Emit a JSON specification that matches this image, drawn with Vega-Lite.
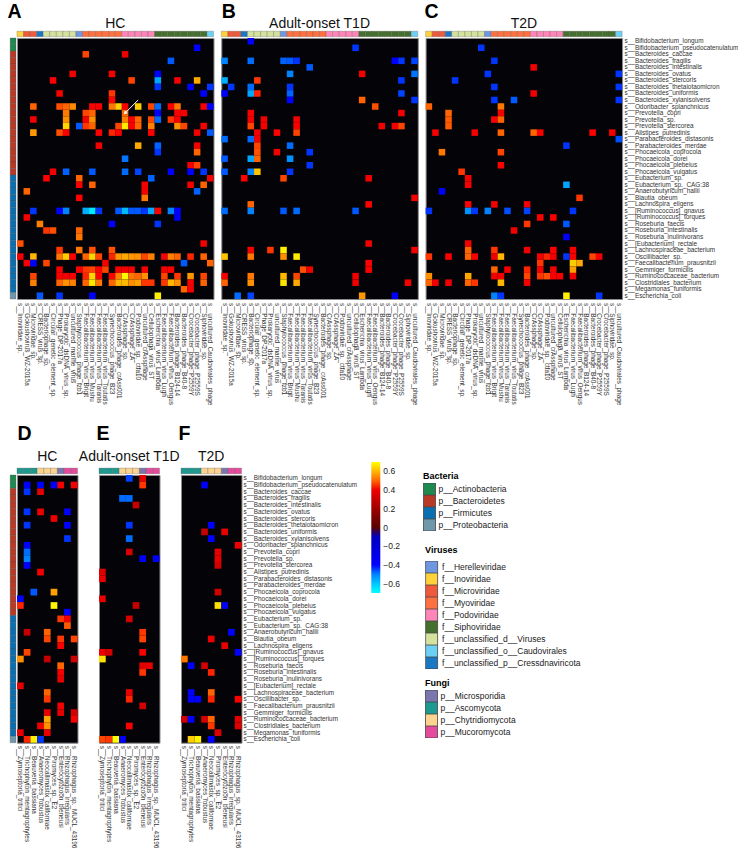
{"$schema":"https://vega.github.io/schema/vega-lite/v6.json","padding":{"left":6,"top":0,"right":0,"bottom":0},"background":"white",
"params":[
{"name":"speciesNames","value":["s__Bifidobacterium_longum","s__Bifidobacterium_pseudocatenulatum","s__Bacteroides_caccae","s__Bacteroides_fragilis","s__Bacteroides_intestinalis","s__Bacteroides_ovatus","s__Bacteroides_stercoris","s__Bacteroides_thetaiotaomicron","s__Bacteroides_uniformis","s__Bacteroides_xylanisolvens","s__Odoribacter_splanchnicus","s__Prevotella_copri","s__Prevotella_sp.","s__Prevotella_stercorea","s__Alistipes_putredinis","s__Parabacteroides_distasonis","s__Parabacteroides_merdae","s__Phocaeicola_coprocola","s__Phocaeicola_dorei","s__Phocaeicola_plebeius","s__Phocaeicola_vulgatus","s__Eubacterium_sp.","s__Eubacterium_sp._CAG:38","s__Anaerobutyricum_hallii","s__Blautia_obeum","s__Lachnospira_eligens","s__[Ruminococcus]_gnavus","s__[Ruminococcus]_torques","s__Roseburia_faecis","s__Roseburia_intestinalis","s__Roseburia_inulinivorans","s__[Eubacterium]_rectale","s__Lachnospiraceae_bacterium","s__Oscillibacter_sp.","s__Faecalibacterium_prausnitzii","s__Gemmiger_formicilis","s__Ruminococcaceae_bacterium","s__Clostridiales_bacterium","s__Megamonas_funiformis","s__Escherichia_coli"]},
{"name":"virusNames","value":["s__Inoviridae_sp.","s__Gokushovirus_WZ-2015a","s__Microviridae_sp.","s__CRESS_virus_sp.","s__Bacteriophage_sp.","s__Circular_genetic_element_sp.","s__Phage_DP-2017a","s__Prokaryotic_dsDNA_virus_sp.","s__uncultured_marine_virus","s__Staphylococcus_phage_fzb1","s__Faecalibacterium_virus_Brigit","s__Faecalibacterium_virus_Mushu","s__Faecalibacterium_virus_Taranis","s__Faecalibacterium_virus_Toutatis","s__Synechococcus_phage_B23","s__Bacteroides_phage_crAss001","s__CrAssphage_sp.","s__CrAssphage_ZA","s__Podoviridae_sp._ctfa10","s__uncultured_crAssphage","s__Cellulophaga_virus_ST","s__Escherichia_virus_Lambda","s__Faecalibacterium_virus_Lugh","s__Faecalibacterium_virus_Oengus","s__Bacteroides_phage_B124-14","s__Bacteroides_phage_B40-8","s__Crocebacter_phage_P2559Y","s__Crocebacter_phage_P2559S","s__Siphoviridae_sp.","s__uncultured_Caudovirales_phage"]},
{"name":"fungusNames","value":["s__Zymoseptoria_tritici","s__Trichophyton_mentagrophytes","s__Beauveria_bassiana","s__Anaeromyces_robustus","s__Neocallimastix_californiae","s__Piromyces_sp._E2","s__Enterocytozoon_bieneusi","s__Rhizophagus_irregularis","s__Rhizophagus_sp._MUCL_43196"]}
],
"datasets":{
"phyla":[{"r":1,"phylum":"p__Actinobacteria"},{"r":2,"phylum":"p__Actinobacteria"},{"r":3,"phylum":"p__Bacteroidetes"},{"r":4,"phylum":"p__Bacteroidetes"},{"r":5,"phylum":"p__Bacteroidetes"},{"r":6,"phylum":"p__Bacteroidetes"},{"r":7,"phylum":"p__Bacteroidetes"},{"r":8,"phylum":"p__Bacteroidetes"},{"r":9,"phylum":"p__Bacteroidetes"},{"r":10,"phylum":"p__Bacteroidetes"},{"r":11,"phylum":"p__Bacteroidetes"},{"r":12,"phylum":"p__Bacteroidetes"},{"r":13,"phylum":"p__Bacteroidetes"},{"r":14,"phylum":"p__Bacteroidetes"},{"r":15,"phylum":"p__Bacteroidetes"},{"r":16,"phylum":"p__Bacteroidetes"},{"r":17,"phylum":"p__Bacteroidetes"},{"r":18,"phylum":"p__Bacteroidetes"},{"r":19,"phylum":"p__Bacteroidetes"},{"r":20,"phylum":"p__Bacteroidetes"},{"r":21,"phylum":"p__Bacteroidetes"},{"r":22,"phylum":"p__Firmicutes"},{"r":23,"phylum":"p__Firmicutes"},{"r":24,"phylum":"p__Firmicutes"},{"r":25,"phylum":"p__Firmicutes"},{"r":26,"phylum":"p__Firmicutes"},{"r":27,"phylum":"p__Firmicutes"},{"r":28,"phylum":"p__Firmicutes"},{"r":29,"phylum":"p__Firmicutes"},{"r":30,"phylum":"p__Firmicutes"},{"r":31,"phylum":"p__Firmicutes"},{"r":32,"phylum":"p__Firmicutes"},{"r":33,"phylum":"p__Firmicutes"},{"r":34,"phylum":"p__Firmicutes"},{"r":35,"phylum":"p__Firmicutes"},{"r":36,"phylum":"p__Firmicutes"},{"r":37,"phylum":"p__Firmicutes"},{"r":38,"phylum":"p__Firmicutes"},{"r":39,"phylum":"p__Firmicutes"},{"r":40,"phylum":"p__Proteobacteria"}],
"families":[{"c":1,"family":"f__Inoviridae"},{"c":2,"family":"f__Microviridae"},{"c":3,"family":"f__Microviridae"},{"c":4,"family":"f__unclassified_p__Cressdnaviricota"},{"c":5,"family":"f__unclassified_d__Viruses"},{"c":6,"family":"f__unclassified_d__Viruses"},{"c":7,"family":"f__unclassified_d__Viruses"},{"c":8,"family":"f__unclassified_d__Viruses"},{"c":9,"family":"f__unclassified_d__Viruses"},{"c":10,"family":"f__Herelleviridae"},{"c":11,"family":"f__Myoviridae"},{"c":12,"family":"f__Myoviridae"},{"c":13,"family":"f__Myoviridae"},{"c":14,"family":"f__Myoviridae"},{"c":15,"family":"f__Myoviridae"},{"c":16,"family":"f__Myoviridae"},{"c":17,"family":"f__Podoviridae"},{"c":18,"family":"f__Podoviridae"},{"c":19,"family":"f__Podoviridae"},{"c":20,"family":"f__Podoviridae"},{"c":21,"family":"f__Podoviridae"},{"c":22,"family":"f__Siphoviridae"},{"c":23,"family":"f__Siphoviridae"},{"c":24,"family":"f__Siphoviridae"},{"c":25,"family":"f__Siphoviridae"},{"c":26,"family":"f__Siphoviridae"},{"c":27,"family":"f__Siphoviridae"},{"c":28,"family":"f__Siphoviridae"},{"c":29,"family":"f__Siphoviridae"},{"c":30,"family":"f__unclassified_o__Caudovirales"}],
"fungalPhyla":[{"c":1,"phylum":"p__Ascomycota"},{"c":2,"phylum":"p__Ascomycota"},{"c":3,"phylum":"p__Ascomycota"},{"c":4,"phylum":"p__Chytridiomycota"},{"c":5,"phylum":"p__Chytridiomycota"},{"c":6,"phylum":"p__Chytridiomycota"},{"c":7,"phylum":"p__Microsporidia"},{"c":8,"phylum":"p__Mucoromycota"},{"c":9,"phylum":"p__Mucoromycota"}],
"arrow":[{"c":19,"r":10,"step":1},{"c":17,"r":12,"step":2}],
"arrowHead":[{"c":17,"r":12}],
"heatA":[{"r":2,"c":28,"v":-0.4},{"r":3,"c":11,"v":0.47},{"r":3,"c":17,"v":0.4},{"r":4,"c":24,"v":-0.45},{"r":6,"c":9,"v":0.41},{"r":6,"c":15,"v":0.42},{"r":6,"c":22,"v":-0.4},{"r":7,"c":6,"v":0.43},{"r":7,"c":18,"v":0.47},{"r":7,"c":22,"v":-0.55},{"r":7,"c":25,"v":0.42},{"r":7,"c":28,"v":0.58},{"r":8,"c":22,"v":-0.42},{"r":8,"c":27,"v":-0.4},{"r":8,"c":30,"v":-0.42},{"r":9,"c":7,"v":0.42},{"r":9,"c":15,"v":0.46},{"r":9,"c":29,"v":-0.4},{"r":10,"c":15,"v":0.44},{"r":11,"c":3,"v":0.5},{"r":11,"c":7,"v":0.48},{"r":11,"c":8,"v":0.5},{"r":11,"c":9,"v":0.54},{"r":11,"c":12,"v":0.43},{"r":11,"c":13,"v":0.42},{"r":11,"c":15,"v":0.52},{"r":11,"c":16,"v":0.63},{"r":11,"c":17,"v":0.42},{"r":11,"c":19,"v":0.63},{"r":11,"c":21,"v":0.47},{"r":11,"c":22,"v":-0.47},{"r":11,"c":24,"v":0.43},{"r":11,"c":25,"v":0.52},{"r":11,"c":29,"v":0.43},{"r":11,"c":30,"v":-0.4},{"r":12,"c":8,"v":0.52},{"r":12,"c":11,"v":0.47},{"r":12,"c":12,"v":0.5},{"r":12,"c":17,"v":0.5},{"r":12,"c":22,"v":-0.4},{"r":12,"c":25,"v":0.42},{"r":12,"c":26,"v":0.42},{"r":13,"c":3,"v":0.41},{"r":13,"c":8,"v":0.55},{"r":13,"c":11,"v":0.42},{"r":13,"c":12,"v":0.55},{"r":13,"c":17,"v":0.53},{"r":13,"c":18,"v":0.42},{"r":13,"c":19,"v":0.5},{"r":13,"c":21,"v":0.47},{"r":13,"c":22,"v":-0.47},{"r":13,"c":24,"v":0.46},{"r":13,"c":25,"v":0.43},{"r":14,"c":8,"v":0.64},{"r":14,"c":10,"v":-0.45},{"r":14,"c":11,"v":0.46},{"r":14,"c":12,"v":0.5},{"r":14,"c":16,"v":0.47},{"r":14,"c":17,"v":0.67},{"r":14,"c":18,"v":0.42},{"r":14,"c":19,"v":0.5},{"r":14,"c":21,"v":0.53},{"r":14,"c":25,"v":0.55},{"r":14,"c":26,"v":0.47},{"r":14,"c":29,"v":0.43},{"r":15,"c":3,"v":0.56},{"r":15,"c":7,"v":0.48},{"r":15,"c":8,"v":0.43},{"r":15,"c":13,"v":0.43},{"r":15,"c":15,"v":0.45},{"r":15,"c":16,"v":0.43},{"r":15,"c":21,"v":0.43},{"r":15,"c":28,"v":0.41},{"r":15,"c":30,"v":-0.45},{"r":17,"c":13,"v":0.41},{"r":17,"c":19,"v":0.58},{"r":17,"c":22,"v":-0.46},{"r":17,"c":28,"v":0.41},{"r":18,"c":22,"v":-0.42},{"r":18,"c":28,"v":0.5},{"r":19,"c":17,"v":-0.48},{"r":20,"c":27,"v":0.41},{"r":20,"c":28,"v":0.47},{"r":21,"c":6,"v":0.41},{"r":21,"c":8,"v":-0.46},{"r":21,"c":12,"v":-0.45},{"r":21,"c":17,"v":-0.47},{"r":21,"c":19,"v":-0.43},{"r":21,"c":24,"v":-0.38},{"r":21,"c":27,"v":-0.4},{"r":21,"c":29,"v":-0.42},{"r":22,"c":5,"v":0.44},{"r":22,"c":10,"v":0.5},{"r":22,"c":21,"v":-0.46},{"r":22,"c":30,"v":0.41},{"r":23,"c":10,"v":0.42},{"r":23,"c":12,"v":0.5},{"r":23,"c":20,"v":0.41},{"r":23,"c":27,"v":0.42},{"r":23,"c":29,"v":0.5},{"r":24,"c":2,"v":0.5},{"r":24,"c":20,"v":0.42},{"r":24,"c":28,"v":-0.46},{"r":25,"c":10,"v":0.44},{"r":25,"c":20,"v":0.52},{"r":27,"c":3,"v":-0.42},{"r":27,"c":7,"v":-0.4},{"r":27,"c":8,"v":-0.5},{"r":27,"c":11,"v":-0.56},{"r":27,"c":12,"v":-0.66},{"r":27,"c":13,"v":-0.42},{"r":27,"c":16,"v":-0.45},{"r":27,"c":17,"v":-0.58},{"r":27,"c":18,"v":-0.45},{"r":27,"c":19,"v":-0.45},{"r":27,"c":20,"v":-0.42},{"r":27,"c":21,"v":-0.56},{"r":27,"c":22,"v":0.44},{"r":27,"c":24,"v":-0.5},{"r":27,"c":25,"v":-0.4},{"r":28,"c":2,"v":0.41},{"r":28,"c":25,"v":-0.4},{"r":29,"c":4,"v":0.53},{"r":29,"c":15,"v":-0.4},{"r":29,"c":22,"v":-0.42},{"r":30,"c":5,"v":0.46},{"r":30,"c":6,"v":0.48},{"r":30,"c":10,"v":0.5},{"r":31,"c":10,"v":0.52},{"r":32,"c":1,"v":0.48},{"r":32,"c":29,"v":0.41},{"r":33,"c":7,"v":0.46},{"r":33,"c":10,"v":0.52},{"r":33,"c":12,"v":0.48},{"r":33,"c":15,"v":0.48},{"r":34,"c":1,"v":0.41},{"r":34,"c":3,"v":0.6},{"r":34,"c":7,"v":0.52},{"r":34,"c":8,"v":0.63},{"r":34,"c":9,"v":0.44},{"r":34,"c":11,"v":0.5},{"r":34,"c":12,"v":0.64},{"r":34,"c":13,"v":0.47},{"r":34,"c":15,"v":0.45},{"r":34,"c":16,"v":0.56},{"r":34,"c":17,"v":0.58},{"r":34,"c":18,"v":0.56},{"r":34,"c":19,"v":0.55},{"r":34,"c":20,"v":0.47},{"r":34,"c":21,"v":0.53},{"r":34,"c":23,"v":0.43},{"r":34,"c":24,"v":0.53},{"r":34,"c":25,"v":0.5},{"r":34,"c":27,"v":0.45},{"r":34,"c":29,"v":0.5},{"r":35,"c":2,"v":0.41},{"r":35,"c":3,"v":-0.4},{"r":35,"c":5,"v":0.47},{"r":35,"c":14,"v":0.41},{"r":35,"c":26,"v":-0.45},{"r":35,"c":30,"v":0.5},{"r":36,"c":7,"v":0.41},{"r":36,"c":10,"v":0.43},{"r":36,"c":11,"v":0.46},{"r":36,"c":12,"v":0.47},{"r":36,"c":13,"v":0.43},{"r":36,"c":14,"v":0.47},{"r":36,"c":16,"v":0.41},{"r":36,"c":17,"v":0.41},{"r":36,"c":18,"v":0.41},{"r":36,"c":20,"v":0.42},{"r":36,"c":23,"v":0.42},{"r":36,"c":24,"v":0.43},{"r":37,"c":3,"v":0.47},{"r":37,"c":7,"v":0.42},{"r":37,"c":8,"v":0.41},{"r":37,"c":9,"v":0.43},{"r":37,"c":11,"v":0.45},{"r":37,"c":12,"v":0.64},{"r":37,"c":13,"v":0.44},{"r":37,"c":15,"v":0.44},{"r":37,"c":16,"v":0.53},{"r":37,"c":17,"v":0.69},{"r":37,"c":18,"v":0.52},{"r":37,"c":19,"v":0.5},{"r":37,"c":20,"v":0.55},{"r":37,"c":23,"v":0.47},{"r":37,"c":25,"v":0.46},{"r":37,"c":27,"v":0.56},{"r":37,"c":29,"v":0.47},{"r":38,"c":3,"v":0.53},{"r":38,"c":7,"v":0.5},{"r":38,"c":8,"v":0.55},{"r":38,"c":9,"v":0.53},{"r":38,"c":11,"v":0.5},{"r":38,"c":12,"v":0.67},{"r":38,"c":13,"v":0.52},{"r":38,"c":15,"v":0.5},{"r":38,"c":16,"v":0.6},{"r":38,"c":17,"v":0.6},{"r":38,"c":18,"v":0.55},{"r":38,"c":19,"v":0.57},{"r":38,"c":20,"v":0.46},{"r":38,"c":21,"v":0.46},{"r":38,"c":23,"v":0.46},{"r":38,"c":24,"v":0.6},{"r":38,"c":25,"v":0.55},{"r":38,"c":27,"v":0.42},{"r":38,"c":29,"v":0.5},{"r":39,"c":26,"v":0.5},{"r":39,"c":27,"v":0.42},{"r":40,"c":4,"v":-0.45},{"r":40,"c":7,"v":-0.42},{"r":40,"c":12,"v":-0.4},{"r":40,"c":22,"v":0.68}],
"heatB":[{"r":1,"c":5,"v":-0.4},{"r":2,"c":21,"v":-0.42},{"r":4,"c":1,"v":-0.5},{"r":4,"c":5,"v":-0.47},{"r":4,"c":10,"v":-0.46},{"r":4,"c":11,"v":-0.45},{"r":4,"c":12,"v":-0.42},{"r":4,"c":27,"v":-0.4},{"r":4,"c":28,"v":-0.42},{"r":4,"c":30,"v":-0.43},{"r":5,"c":14,"v":-0.45},{"r":6,"c":11,"v":-0.5},{"r":6,"c":22,"v":0.41},{"r":6,"c":30,"v":-0.48},{"r":7,"c":1,"v":-0.56},{"r":7,"c":6,"v":0.46},{"r":7,"c":28,"v":-0.42},{"r":8,"c":2,"v":-0.42},{"r":8,"c":5,"v":-0.47},{"r":8,"c":11,"v":-0.42},{"r":9,"c":1,"v":-0.4},{"r":9,"c":5,"v":-0.55},{"r":9,"c":6,"v":0.45},{"r":9,"c":11,"v":-0.46},{"r":9,"c":28,"v":-0.43},{"r":10,"c":11,"v":-0.4},{"r":10,"c":22,"v":0.5},{"r":10,"c":30,"v":-0.42},{"r":11,"c":24,"v":0.48},{"r":12,"c":5,"v":0.42},{"r":12,"c":28,"v":0.41},{"r":13,"c":5,"v":0.41},{"r":13,"c":7,"v":0.41},{"r":13,"c":12,"v":0.41},{"r":14,"c":5,"v":0.47},{"r":14,"c":7,"v":0.42},{"r":14,"c":12,"v":0.43},{"r":14,"c":25,"v":0.41},{"r":14,"c":27,"v":0.41},{"r":14,"c":28,"v":0.47},{"r":15,"c":6,"v":0.41},{"r":15,"c":9,"v":0.44},{"r":15,"c":12,"v":0.47},{"r":16,"c":1,"v":-0.47},{"r":16,"c":5,"v":-0.47},{"r":16,"c":6,"v":0.41},{"r":17,"c":6,"v":0.47},{"r":17,"c":11,"v":-0.47},{"r":18,"c":6,"v":0.48},{"r":18,"c":9,"v":0.41},{"r":18,"c":14,"v":-0.42},{"r":19,"c":1,"v":-0.45},{"r":19,"c":5,"v":-0.55},{"r":19,"c":6,"v":0.5},{"r":19,"c":11,"v":-0.52},{"r":20,"c":14,"v":-0.42},{"r":21,"c":1,"v":-0.45},{"r":21,"c":5,"v":-0.5},{"r":21,"c":6,"v":0.62},{"r":21,"c":11,"v":-0.42},{"r":22,"c":4,"v":0.44},{"r":22,"c":10,"v":0.47},{"r":22,"c":23,"v":0.41},{"r":25,"c":30,"v":0.41},{"r":26,"c":5,"v":0.5},{"r":26,"c":23,"v":0.44},{"r":27,"c":1,"v":-0.47},{"r":27,"c":5,"v":-0.5},{"r":27,"c":10,"v":-0.45},{"r":27,"c":12,"v":-0.47},{"r":27,"c":21,"v":-0.45},{"r":32,"c":23,"v":0.41},{"r":33,"c":5,"v":0.41},{"r":33,"c":8,"v":0.46},{"r":33,"c":10,"v":0.68},{"r":33,"c":30,"v":0.42},{"r":34,"c":1,"v":0.62},{"r":34,"c":5,"v":0.52},{"r":34,"c":10,"v":0.55},{"r":34,"c":12,"v":0.67},{"r":35,"c":23,"v":0.44},{"r":36,"c":13,"v":0.48},{"r":36,"c":14,"v":0.41},{"r":36,"c":23,"v":0.43},{"r":37,"c":1,"v":0.42},{"r":37,"c":5,"v":0.52},{"r":37,"c":10,"v":0.6},{"r":37,"c":12,"v":0.47},{"r":37,"c":21,"v":0.4},{"r":38,"c":1,"v":0.5},{"r":38,"c":5,"v":0.55},{"r":38,"c":10,"v":0.66},{"r":38,"c":12,"v":0.58},{"r":38,"c":21,"v":0.4},{"r":38,"c":29,"v":0.41},{"r":40,"c":3,"v":-0.47},{"r":40,"c":5,"v":-0.43},{"r":40,"c":22,"v":0.56},{"r":40,"c":27,"v":-0.38}],
"heatC":[{"r":2,"c":9,"v":-0.42},{"r":4,"c":11,"v":-0.42},{"r":5,"c":17,"v":0.41},{"r":6,"c":10,"v":-0.42},{"r":6,"c":30,"v":-0.42},{"r":7,"c":5,"v":-0.42},{"r":8,"c":11,"v":-0.42},{"r":8,"c":30,"v":-0.42},{"r":9,"c":17,"v":0.41},{"r":10,"c":11,"v":-0.42},{"r":10,"c":14,"v":-0.45},{"r":10,"c":30,"v":-0.42},{"r":11,"c":1,"v":0.5},{"r":11,"c":12,"v":0.52},{"r":12,"c":4,"v":0.5},{"r":12,"c":12,"v":0.41},{"r":13,"c":4,"v":0.49},{"r":13,"c":11,"v":0.43},{"r":13,"c":12,"v":0.5},{"r":14,"c":4,"v":0.49},{"r":15,"c":2,"v":0.41},{"r":15,"c":8,"v":0.41},{"r":15,"c":12,"v":0.5},{"r":15,"c":17,"v":0.5},{"r":15,"c":18,"v":0.42},{"r":15,"c":26,"v":0.44},{"r":15,"c":29,"v":0.41},{"r":16,"c":30,"v":-0.44},{"r":17,"c":22,"v":-0.42},{"r":18,"c":3,"v":0.52},{"r":18,"c":12,"v":0.47},{"r":20,"c":12,"v":0.44},{"r":21,"c":6,"v":0.46},{"r":22,"c":7,"v":0.41},{"r":23,"c":7,"v":0.42},{"r":23,"c":22,"v":-0.55},{"r":24,"c":3,"v":-0.4},{"r":25,"c":24,"v":0.46},{"r":26,"c":7,"v":0.44},{"r":26,"c":11,"v":0.42},{"r":26,"c":16,"v":0.41},{"r":27,"c":1,"v":-0.42},{"r":27,"c":7,"v":-0.52},{"r":27,"c":8,"v":-0.42},{"r":27,"c":10,"v":-0.5},{"r":27,"c":13,"v":-0.44},{"r":27,"c":16,"v":-0.43},{"r":27,"c":23,"v":-0.42},{"r":28,"c":18,"v":0.43},{"r":28,"c":20,"v":0.43},{"r":29,"c":16,"v":0.46},{"r":29,"c":22,"v":-0.45},{"r":30,"c":14,"v":0.41},{"r":31,"c":22,"v":-0.38},{"r":32,"c":7,"v":0.41},{"r":33,"c":7,"v":0.5},{"r":33,"c":11,"v":0.46},{"r":33,"c":16,"v":0.41},{"r":33,"c":20,"v":0.44},{"r":33,"c":23,"v":0.42},{"r":34,"c":1,"v":0.46},{"r":34,"c":4,"v":0.44},{"r":34,"c":7,"v":0.5},{"r":34,"c":8,"v":0.42},{"r":34,"c":11,"v":0.41},{"r":34,"c":12,"v":0.6},{"r":34,"c":18,"v":0.41},{"r":34,"c":19,"v":0.45},{"r":34,"c":20,"v":0.41},{"r":34,"c":22,"v":-0.42},{"r":34,"c":23,"v":0.42},{"r":34,"c":26,"v":0.47},{"r":34,"c":27,"v":0.41},{"r":35,"c":18,"v":0.46},{"r":35,"c":23,"v":0.63},{"r":35,"c":24,"v":0.58},{"r":36,"c":11,"v":0.5},{"r":36,"c":13,"v":0.41},{"r":36,"c":16,"v":0.45},{"r":36,"c":18,"v":0.42},{"r":36,"c":20,"v":0.41},{"r":36,"c":23,"v":0.57},{"r":37,"c":1,"v":0.55},{"r":37,"c":7,"v":0.58},{"r":37,"c":11,"v":0.41},{"r":37,"c":12,"v":0.42},{"r":37,"c":16,"v":0.47},{"r":37,"c":18,"v":0.46},{"r":37,"c":19,"v":0.48},{"r":37,"c":20,"v":0.43},{"r":37,"c":21,"v":0.42},{"r":37,"c":23,"v":0.41},{"r":38,"c":1,"v":0.5},{"r":38,"c":2,"v":0.42},{"r":38,"c":4,"v":0.41},{"r":38,"c":7,"v":0.5},{"r":38,"c":8,"v":0.46},{"r":38,"c":12,"v":0.6},{"r":38,"c":16,"v":0.41},{"r":40,"c":11,"v":-0.5},{"r":40,"c":12,"v":-0.42},{"r":40,"c":22,"v":0.68},{"r":40,"c":27,"v":-0.42}],
"heatD":[{"r":2,"c":2,"v":-0.4},{"r":2,"c":4,"v":-0.4},{"r":2,"c":6,"v":-0.4},{"r":2,"c":7,"v":0.41},{"r":2,"c":9,"v":0.41},{"r":3,"c":2,"v":-0.42},{"r":3,"c":4,"v":0.38},{"r":6,"c":2,"v":-0.42},{"r":6,"c":4,"v":0.4},{"r":6,"c":8,"v":-0.4},{"r":7,"c":6,"v":0.4},{"r":8,"c":2,"v":-0.42},{"r":8,"c":8,"v":-0.4},{"r":10,"c":8,"v":-0.42},{"r":11,"c":2,"v":-0.38},{"r":12,"c":2,"v":-0.47},{"r":13,"c":2,"v":-0.5},{"r":14,"c":2,"v":-0.38},{"r":15,"c":4,"v":0.41},{"r":18,"c":3,"v":-0.45},{"r":18,"c":6,"v":0.57},{"r":19,"c":1,"v":-0.38},{"r":20,"c":1,"v":0.45},{"r":20,"c":6,"v":0.69},{"r":21,"c":8,"v":-0.38},{"r":22,"c":7,"v":0.46},{"r":22,"c":8,"v":0.41},{"r":23,"c":8,"v":0.49},{"r":24,"c":2,"v":0.3},{"r":24,"c":5,"v":0.5},{"r":25,"c":5,"v":0.47},{"r":25,"c":7,"v":0.46},{"r":25,"c":9,"v":0.47},{"r":26,"c":7,"v":0.43},{"r":27,"c":2,"v":0.47},{"r":28,"c":1,"v":0.55},{"r":28,"c":5,"v":0.3},{"r":28,"c":9,"v":0.32},{"r":29,"c":7,"v":0.5},{"r":30,"c":7,"v":0.42},{"r":31,"c":7,"v":0.38},{"r":32,"c":1,"v":0.38},{"r":33,"c":5,"v":0.5},{"r":34,"c":5,"v":0.46},{"r":35,"c":7,"v":0.4},{"r":36,"c":5,"v":0.38},{"r":36,"c":7,"v":0.38},{"r":36,"c":9,"v":0.33},{"r":37,"c":5,"v":0.58},{"r":37,"c":9,"v":0.43},{"r":38,"c":4,"v":0.4},{"r":38,"c":5,"v":0.55},{"r":39,"c":1,"v":0.38},{"r":39,"c":5,"v":0.38},{"r":40,"c":2,"v":0.45},{"r":40,"c":3,"v":0.68},{"r":40,"c":4,"v":-0.42}],
"heatE":[{"r":1,"c":5,"v":-0.43},{"r":1,"c":7,"v":0.38},{"r":2,"c":7,"v":0.46},{"r":4,"c":4,"v":-0.47},{"r":4,"c":5,"v":-0.47},{"r":5,"c":6,"v":0.3},{"r":8,"c":5,"v":-0.42},{"r":10,"c":5,"v":-0.47},{"r":12,"c":5,"v":0.33},{"r":13,"c":7,"v":-0.38},{"r":13,"c":9,"v":-0.36},{"r":15,"c":1,"v":0.35},{"r":16,"c":1,"v":0.39},{"r":19,"c":1,"v":0.39},{"r":20,"c":6,"v":0.3},{"r":22,"c":5,"v":0.33},{"r":24,"c":7,"v":0.46},{"r":25,"c":7,"v":0.47},{"r":27,"c":1,"v":0.4},{"r":27,"c":2,"v":0.33},{"r":27,"c":7,"v":0.43},{"r":28,"c":1,"v":0.66},{"r":29,"c":7,"v":0.37},{"r":29,"c":8,"v":0.38},{"r":30,"c":7,"v":0.46},{"r":33,"c":5,"v":0.39},{"r":34,"c":5,"v":0.45},{"r":35,"c":7,"v":0.33},{"r":38,"c":5,"v":0.43},{"r":40,"c":1,"v":0.47},{"r":40,"c":2,"v":0.46},{"r":40,"c":3,"v":0.7},{"r":40,"c":4,"v":-0.38}],
"heatF":[{"r":2,"c":4,"v":-0.38},{"r":8,"c":5,"v":-0.38},{"r":9,"c":4,"v":0.3},{"r":9,"c":7,"v":0.38},{"r":10,"c":5,"v":-0.38},{"r":11,"c":9,"v":0.4},{"r":12,"c":6,"v":0.38},{"r":13,"c":6,"v":0.38},{"r":14,"c":6,"v":0.33},{"r":18,"c":6,"v":0.32},{"r":20,"c":6,"v":0.66},{"r":20,"c":7,"v":-0.38},{"r":24,"c":8,"v":-0.4},{"r":25,"c":5,"v":0.39},{"r":26,"c":7,"v":0.38},{"r":27,"c":9,"v":-0.38},{"r":28,"c":1,"v":0.52},{"r":29,"c":2,"v":-0.38},{"r":29,"c":4,"v":0.33},{"r":30,"c":5,"v":0.45},{"r":33,"c":2,"v":-0.38},{"r":33,"c":5,"v":0.5},{"r":34,"c":2,"v":-0.38},{"r":34,"c":3,"v":-0.38},{"r":34,"c":5,"v":0.45},{"r":34,"c":9,"v":0.43},{"r":37,"c":1,"v":0.32},{"r":37,"c":2,"v":-0.38},{"r":37,"c":4,"v":0.33},{"r":37,"c":5,"v":0.5},{"r":37,"c":9,"v":0.36},{"r":38,"c":5,"v":0.46},{"r":38,"c":9,"v":0.36},{"r":39,"c":6,"v":0.36},{"r":40,"c":2,"v":0.63},{"r":40,"c":3,"v":0.68},{"r":40,"c":5,"v":-0.38}]
},
"vconcat":[
{"hconcat":[
{"width":196.5,"height":261,"title":{"text":"HC","offset":-30},"resolve":{"scale":{"color":"independent"}},"layer":[
{"data":{"name":"heatA"},"mark":"rect","encoding":{"x":{"field":"c","type":"ordinal","scale":{"domain":[1,2,3,4,5,6,7,8,9,10,11,12,13,14,15,16,17,18,19,20,21,22,23,24,25,26,27,28,29,30]},"axis":{"labelExpr":"virusNames[datum.value-1]","title":"A","titleX":-10,"titleY":-282}},"y":{"field":"r","type":"ordinal","scale":{"domain":[1,2,3,4,5,6,7,8,9,10,11,12,13,14,15,16,17,18,19,20,21,22,23,24,25,26,27,28,29,30,31,32,33,34,35,36,37,38,39,40]},"axis":null},"color":{"field":"v","type":"quantitative","title":"Correlation","scale":{"domain":[-0.7,-0.4,0,0.44,0.7],"range":["#00ffff","#0000ff","#000000","#ff0000","#ffff00"]},"legend":null}}},
{"data":{"name":"families"},"mark":{"type":"rect","height":5.5,"yOffset":-7.3,"stroke":"#555","strokeWidth":0.3},"encoding":{"x":{"field":"c","type":"ordinal"},"y":{"datum":1,"type":"ordinal","axis":null},"color":{"field":"family","type":"nominal","scale":{"domain":["f__Herelleviridae","f__Inoviridae","f__Microviridae","f__Myoviridae","f__Podoviridae","f__Siphoviridae","f__unclassified_d__Viruses","f__unclassified_o__Caudovirales","f__unclassified_p__Cressdnaviricota"],"range":["#6f96e0","#ffd23c","#f05a3c","#ff7040","#ff85b8","#456f2e","#d4e29e","#6ecff5","#1a78c2"]},"legend":null}}},
{"data":{"name":"phyla"},"mark":{"type":"rect","width":5.8,"xOffset":-7.2,"stroke":"#444","strokeWidth":0.3},"encoding":{"x":{"datum":1,"type":"ordinal"},"y":{"field":"r","type":"ordinal","axis":null},"color":{"field":"phylum","type":"nominal","scale":{"domain":["p__Actinobacteria","p__Bacteroidetes","p__Firmicutes","p__Proteobacteria"],"range":["#1f8a50","#b83a26","#0a6fb0","#6f98ab"]},"legend":null}}},
{"data":{"name":"arrow"},"mark":{"type":"line","color":"white","strokeWidth":1},"encoding":{"x":{"field":"c","type":"ordinal"},"y":{"field":"r","type":"ordinal","axis":null},"order":{"field":"step"}}},
{"data":{"name":"arrowHead"},"mark":{"type":"point","shape":"triangle-up","angle":225,"filled":true,"color":"white","size":18,"opacity":1},"encoding":{"x":{"field":"c","type":"ordinal"},"y":{"field":"r","type":"ordinal","axis":null}}}
]},
{"width":196.5,"height":261,"title":{"text":"Adult-onset T1D","offset":-30},"resolve":{"scale":{"color":"independent"}},"layer":[
{"data":{"name":"heatB"},"mark":"rect","encoding":{"x":{"field":"c","type":"ordinal","scale":{"domain":[1,2,3,4,5,6,7,8,9,10,11,12,13,14,15,16,17,18,19,20,21,22,23,24,25,26,27,28,29,30]},"axis":{"labelExpr":"virusNames[datum.value-1]","title":"B","titleX":0,"titleY":-282}},"y":{"field":"r","type":"ordinal","scale":{"domain":[1,2,3,4,5,6,7,8,9,10,11,12,13,14,15,16,17,18,19,20,21,22,23,24,25,26,27,28,29,30,31,32,33,34,35,36,37,38,39,40]},"axis":null},"color":{"field":"v","type":"quantitative","title":"Correlation","scale":{"domain":[-0.7,-0.4,0,0.44,0.7],"range":["#00ffff","#0000ff","#000000","#ff0000","#ffff00"]},"legend":null}}},
{"data":{"name":"families"},"mark":{"type":"rect","height":5.5,"yOffset":-7.3,"stroke":"#555","strokeWidth":0.3},"encoding":{"x":{"field":"c","type":"ordinal"},"y":{"datum":1,"type":"ordinal","axis":null},"color":{"field":"family","type":"nominal","scale":{"domain":["f__Herelleviridae","f__Inoviridae","f__Microviridae","f__Myoviridae","f__Podoviridae","f__Siphoviridae","f__unclassified_d__Viruses","f__unclassified_o__Caudovirales","f__unclassified_p__Cressdnaviricota"],"range":["#6f96e0","#ffd23c","#f05a3c","#ff7040","#ff85b8","#456f2e","#d4e29e","#6ecff5","#1a78c2"]},"legend":null}}}
]},
{"width":196.5,"height":261,"title":{"text":"T2D","offset":-30},"resolve":{"scale":{"color":"independent"}},"layer":[
{"data":{"name":"heatC"},"mark":"rect","encoding":{"x":{"field":"c","type":"ordinal","scale":{"domain":[1,2,3,4,5,6,7,8,9,10,11,12,13,14,15,16,17,18,19,20,21,22,23,24,25,26,27,28,29,30]},"axis":{"labelExpr":"virusNames[datum.value-1]","title":"C","titleX":-1.5,"titleY":-282}},"y":{"field":"r","type":"ordinal","scale":{"domain":[1,2,3,4,5,6,7,8,9,10,11,12,13,14,15,16,17,18,19,20,21,22,23,24,25,26,27,28,29,30,31,32,33,34,35,36,37,38,39,40]},"axis":{"orient":"right","labelExpr":"speciesNames[datum.value-1]","labelPadding":2,"title":null}},"color":{"field":"v","type":"quantitative","title":"Correlation","scale":{"domain":[-0.7,-0.4,0,0.44,0.7],"range":["#00ffff","#0000ff","#000000","#ff0000","#ffff00"]},"legend":null}}},
{"data":{"name":"families"},"mark":{"type":"rect","height":5.5,"yOffset":-7.3,"stroke":"#555","strokeWidth":0.3},"encoding":{"x":{"field":"c","type":"ordinal"},"y":{"datum":1,"type":"ordinal"},"color":{"field":"family","type":"nominal","scale":{"domain":["f__Herelleviridae","f__Inoviridae","f__Microviridae","f__Myoviridae","f__Podoviridae","f__Siphoviridae","f__unclassified_d__Viruses","f__unclassified_o__Caudovirales","f__unclassified_p__Cressdnaviricota"],"range":["#6f96e0","#ffd23c","#f05a3c","#ff7040","#ff85b8","#456f2e","#d4e29e","#6ecff5","#1a78c2"]},"legend":{"title":"Viruses","orient":"none","legendX":-0.5,"legendY":508,"labelOffset":4,"titlePadding":6}}}}
]}
],"spacing":7.3,"bounds":"flush"},
{"hconcat":[
{"width":60.5,"height":267.7,"title":{"text":"HC","offset":-41},"resolve":{"scale":{"color":"independent"}},"layer":[
{"data":{"name":"heatD"},"mark":"rect","encoding":{"x":{"field":"c","type":"ordinal","scale":{"domain":[1,2,3,4,5,6,7,8,9]},"axis":{"labelExpr":"fungusNames[datum.value-1]","labelPadding":2.5,"title":"D","titleX":0,"titleY":-303.7}},"y":{"field":"r","type":"ordinal","scale":{"domain":[1,2,3,4,5,6,7,8,9,10,11,12,13,14,15,16,17,18,19,20,21,22,23,24,25,26,27,28,29,30,31,32,33,34,35,36,37,38,39,40]},"axis":null},"color":{"field":"v","type":"quantitative","title":"Correlation","scale":{"domain":[-0.7,-0.4,0,0.44,0.7],"range":["#00ffff","#0000ff","#000000","#ff0000","#ffff00"]},"legend":null}}},
{"data":{"name":"fungalPhyla"},"mark":{"type":"rect","height":5.7,"yOffset":-7.4,"stroke":"#555","strokeWidth":0.3},"encoding":{"x":{"field":"c","type":"ordinal"},"y":{"datum":1,"type":"ordinal","axis":null},"color":{"field":"phylum","type":"nominal","scale":{"domain":["p__Microsporidia","p__Ascomycota","p__Chytridiomycota","p__Mucoromycota"],"range":["#7b77ae","#1c9a90","#fdd48f","#e64a9c"]},"legend":null}}},
{"data":{"name":"phyla"},"mark":{"type":"rect","width":5.8,"xOffset":-7.3,"stroke":"#444","strokeWidth":0.3},"encoding":{"x":{"datum":1,"type":"ordinal"},"y":{"field":"r","type":"ordinal","axis":null},"color":{"field":"phylum","type":"nominal","scale":{"domain":["p__Actinobacteria","p__Bacteroidetes","p__Firmicutes","p__Proteobacteria"],"range":["#1f8a50","#b83a26","#0a6fb0","#6f98ab"]},"legend":{"title":"Bacteria","orient":"none","legendX":406,"legendY":-3,"labelOffset":2.5,"titlePadding":2}}}}
]},
{"width":60.5,"height":267.7,"title":{"text":"Adult-onset T1D","offset":-41},"resolve":{"scale":{"color":"independent"}},"layer":[
{"data":{"name":"heatE"},"mark":"rect","encoding":{"x":{"field":"c","type":"ordinal","scale":{"domain":[1,2,3,4,5,6,7,8,9]},"axis":{"labelExpr":"fungusNames[datum.value-1]","labelPadding":2.5,"title":"E","titleX":-3,"titleY":-303.7}},"y":{"field":"r","type":"ordinal","scale":{"domain":[1,2,3,4,5,6,7,8,9,10,11,12,13,14,15,16,17,18,19,20,21,22,23,24,25,26,27,28,29,30,31,32,33,34,35,36,37,38,39,40]},"axis":null},"color":{"field":"v","type":"quantitative","title":"Correlation","scale":{"domain":[-0.7,-0.4,0,0.44,0.7],"range":["#00ffff","#0000ff","#000000","#ff0000","#ffff00"]},"legend":null}}},
{"data":{"name":"fungalPhyla"},"mark":{"type":"rect","height":5.7,"yOffset":-7.4,"stroke":"#555","strokeWidth":0.3},"encoding":{"x":{"field":"c","type":"ordinal"},"y":{"datum":1,"type":"ordinal","axis":null},"color":{"field":"phylum","type":"nominal","scale":{"domain":["p__Microsporidia","p__Ascomycota","p__Chytridiomycota","p__Mucoromycota"],"range":["#7b77ae","#1c9a90","#fdd48f","#e64a9c"]},"legend":null}}}
]},
{"width":60.5,"height":267.7,"title":{"text":"T2D","offset":-41},"resolve":{"scale":{"color":"independent"}},"layer":[
{"data":{"name":"heatF"},"mark":"rect","encoding":{"x":{"field":"c","type":"ordinal","scale":{"domain":[1,2,3,4,5,6,7,8,9]},"axis":{"labelExpr":"fungusNames[datum.value-1]","labelPadding":2.5,"title":"F","titleX":-3,"titleY":-303.7}},"y":{"field":"r","type":"ordinal","scale":{"domain":[1,2,3,4,5,6,7,8,9,10,11,12,13,14,15,16,17,18,19,20,21,22,23,24,25,26,27,28,29,30,31,32,33,34,35,36,37,38,39,40]},"axis":{"orient":"right","labelExpr":"speciesNames[datum.value-1]","labelPadding":1.5,"title":null}},"color":{"field":"v","type":"quantitative","title":"Correlation","scale":{"domain":[-0.7,-0.4,0,0.44,0.7],"range":["#00ffff","#0000ff","#000000","#ff0000","#ffff00"]},"legend":{"title":null,"orient":"none","legendX":190.3,"legendY":-13,"gradientLength":131,"gradientThickness":9,"values":[-0.6,-0.4,-0.2,0,0.2,0.4,0.6],"labelExpr":"datum.value==0?'0':format(datum.value,'.1f')","labelFontSize":8.5,"labelOffset":3,"gradientStrokeWidth":0}}}},
{"data":{"name":"fungalPhyla"},"mark":{"type":"rect","height":5.7,"yOffset":-7.4,"stroke":"#555","strokeWidth":0.3},"encoding":{"x":{"field":"c","type":"ordinal"},"y":{"datum":1,"type":"ordinal"},"color":{"field":"phylum","type":"nominal","scale":{"domain":["p__Microsporidia","p__Ascomycota","p__Chytridiomycota","p__Mucoromycota"],"range":["#7b77ae","#1c9a90","#fdd48f","#e64a9c"]},"legend":{"title":"Fungi","orient":"none","legendX":244,"legendY":204,"labelOffset":2.5,"titlePadding":2}}}}
]}
],"spacing":21,"bounds":"flush"}
],"spacing":437,"bounds":"flush",
"config":{"font":"Liberation Sans","view":{"fill":"#030308","stroke":"#8c8c8c","strokeWidth":1},
"title":{"fontSize":14,"fontWeight":"normal","anchor":"middle","color":"#111"},
"axis":{"domain":false,"ticks":false,"grid":false,"labelFontSize":6.4,"labelColor":"#333","labelAngle":0,"labelOverlap":false,"labelFlush":false,"labelLimit":0,"titleFontSize":19.5,"titleFontWeight":"bold","titleColor":"#000","titleAlign":"left","titleBaseline":"alphabetic","titleAngle":0},
"axisX":{"labelAngle":90,"labelAlign":"left","labelBaseline":"middle","labelPadding":3.5},
"legend":{"symbolType":"square","symbolSize":144,"symbolStrokeColor":"#444","symbolStrokeWidth":0.8,"symbolOpacity":1,"rowPadding":-5,"clipHeight":12,"labelFontSize":8.5,"labelColor":"#222","labelLimit":0,"titleFontSize":9,"titleFontWeight":"bold","titleColor":"#000"}}
}
